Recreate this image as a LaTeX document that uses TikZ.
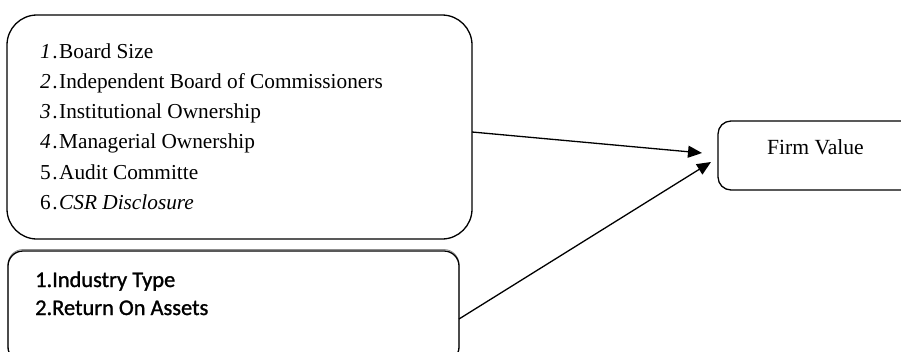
\documentclass[tikz,border=0pt]{standalone}
\usepackage{fontspec}
\setmainfont{Liberation Serif}
\newfontfamily\boxsans[FakeBold=1.2]{Carlito}
\usetikzlibrary{arrows.meta}
\newcommand{\itemnum}[1]{\makebox[19pt][l]{#1\kern1.5pt.}}
\begin{document}
\begin{tikzpicture}[x=1pt,y=-1pt,
  boxline/.style={draw=black,line width=1.3pt},
  conn/.style={line width=1.3pt,-{Triangle[length=14pt,width=12pt]}},
  txt/.style={anchor=base west,inner sep=0pt,font=\fontsize{21.3}{25}\selectfont},
  sanstxt/.style={anchor=base west,inner sep=0pt,font=\boxsans\fontsize{22.4}{26}\selectfont}]
\useasboundingbox (0,0) rectangle (901,351);
\clip (0,0) rectangle (901,351);
% box 1
\draw[boxline,rounded corners=30pt] (7,15) rectangle (472,239);
\coordinate (b1out) at (472,132);
\node[txt] (l1) at (40,58) {\itemnum{\textit{1}}Board Size};
\node[txt] (l2) at (40,88) {\itemnum{\textit{2}}Independent Board of Commissioners};
\node[txt] (l3) at (40,118) {\itemnum{\textit{3}}Institutional Ownership};
\node[txt] (l4) at (40,148) {\itemnum{\textit{4}}Managerial Ownership};
\node[txt] (l5) at (40,179) {\itemnum{5}Audit Committe};
\node[txt] (l6) at (40,209) {\itemnum{6}\textit{CSR Disclosure}};
% box 2
\draw[black!45,line width=0.8pt,rounded corners=15pt] (8,249.5) rectangle (459,362);
\draw[boxline,rounded corners=15pt] (8,251) rectangle (459,362);
\coordinate (b2out) at (459,319);
\node[sanstxt] (m1) at (35,287) {1.Industry Type};
\node[sanstxt] (m2) at (35,315) {2.Return On Assets};
% firm value
\draw[boxline,rounded corners=13pt] (718,121) rectangle (920,190);
\node[txt,font=\fontsize{21.6}{25}\selectfont] (fv) at (767,154) {Firm Value};
\coordinate (fvin1) at (702,153);
\coordinate (fvin2) at (711,162);
% connectors
\draw[conn] (b1out) -- (fvin1);
\draw[conn] (b2out) -- (fvin2);
\end{tikzpicture}
\end{document}
